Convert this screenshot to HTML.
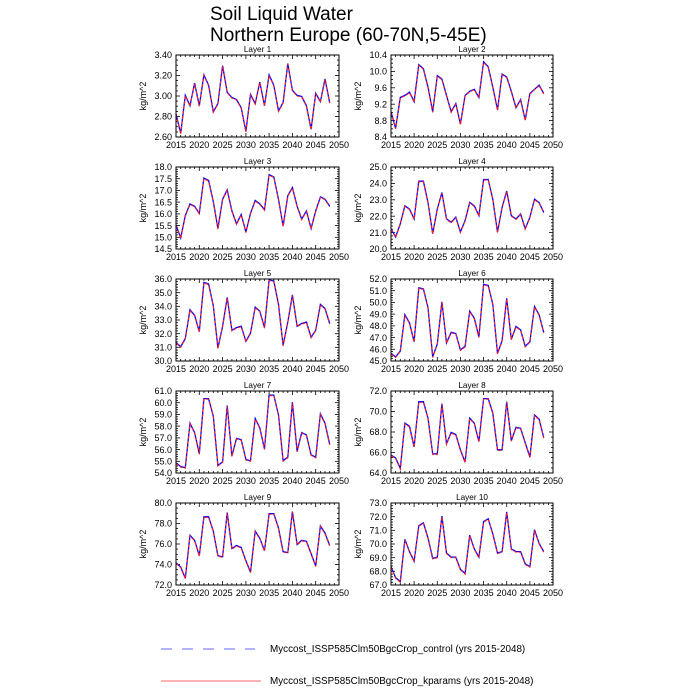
<!DOCTYPE html>
<html><head><meta charset="utf-8"><style>
html,body{margin:0;padding:0;background:#fff;width:700px;height:700px;overflow:hidden}
svg text{font-family:"Liberation Sans",sans-serif;fill:#000}
</style></head><body>
<svg id="s" width="700" height="700" viewBox="0 0 700 700" xmlns="http://www.w3.org/2000/svg">
<text x="210" y="20" font-size="19">Soil Liquid Water</text>
<text x="210" y="41" font-size="19">Northern Europe (60-70N,5-45E)</text>
<line x1="161" y1="649" x2="255" y2="649" stroke="#6666ff" stroke-width="1" stroke-dasharray="11,10"/>
<text x="270" y="652" font-size="9.9">Myccost_ISSP585Clm50BgcCrop_control (yrs 2015-2048)</text>
<line x1="161" y1="681" x2="261" y2="681" stroke="#ff6666" stroke-width="1"/>
<text x="270" y="684" font-size="9.9">Myccost_ISSP585Clm50BgcCrop_kparams (yrs 2015-2048)</text>
</svg>
<script>
const P=[
{n:1,lo:2.6,hi:3.4,st:0.2,mn:0.05,d:2,v:[2.82,2.63,3.0,2.9,3.12,2.9,3.2,3.1,2.84,2.92,3.29,3.03,2.98,2.96,2.88,2.65,3.01,2.92,3.13,2.9,3.2,3.1,2.85,2.93,3.31,3.05,3.0,2.99,2.9,2.67,3.02,2.94,3.16,2.93]},
{n:2,lo:8.4,hi:10.4,st:0.4,mn:0.1,d:1,v:[9.0,8.6,9.35,9.4,9.48,9.25,10.15,10.05,9.6,9.0,9.88,9.8,9.4,9.0,9.2,8.7,9.4,9.5,9.55,9.35,10.22,10.1,9.6,9.05,9.92,9.85,9.5,9.1,9.3,8.8,9.45,9.55,9.65,9.45]},
{n:3,lo:14.5,hi:18,st:0.5,mn:0.1,d:1,v:[15.5,14.95,15.9,16.4,16.3,16.0,17.5,17.4,16.5,15.35,16.6,17.0,16.1,15.55,15.95,15.2,16.0,16.55,16.4,16.15,17.65,17.55,16.6,15.45,16.75,17.1,16.3,15.75,16.1,15.35,16.1,16.7,16.6,16.3]},
{n:4,lo:20,hi:25,st:1,mn:0.2,d:1,v:[21.2,20.7,21.5,22.6,22.4,21.8,24.1,24.1,22.8,20.9,22.4,23.4,21.8,21.6,21.9,21.0,21.7,22.8,22.6,22.0,24.2,24.2,23.0,21.0,22.5,23.5,22.0,21.8,22.1,21.2,21.9,23.0,22.8,22.2]},
{n:5,lo:30,hi:36,st:1,mn:0.2,d:1,v:[31.3,31.0,31.6,33.7,33.3,32.1,35.7,35.6,34.0,30.9,32.5,34.6,32.2,32.4,32.5,31.4,32.0,33.9,33.6,32.4,35.9,35.8,34.1,31.1,32.8,34.8,32.5,32.7,32.8,31.7,32.2,34.1,33.8,32.7]},
{n:6,lo:45,hi:52,st:1,mn:0.2,d:1,v:[45.6,45.3,45.8,48.9,48.2,46.6,51.2,51.1,49.5,45.3,46.4,50.0,46.5,47.4,47.3,45.9,46.2,49.2,48.6,47.0,51.5,51.4,49.8,45.6,46.7,50.3,46.8,47.9,47.6,46.2,46.6,49.6,48.9,47.4]},
{n:7,lo:54,hi:61,st:1,mn:0.2,d:1,v:[54.8,54.5,54.4,58.2,57.4,55.6,60.3,60.3,58.8,54.6,54.9,59.7,55.4,56.9,56.8,55.1,55.0,58.6,57.8,56.0,60.6,60.6,58.9,55.0,55.3,60.0,55.8,57.4,57.2,55.5,55.3,59.0,58.2,56.4]},
{n:8,lo:64,hi:72,st:2,mn:0.5,d:1,v:[65.7,65.4,64.4,68.8,68.5,66.5,70.9,70.9,69.3,65.8,65.8,70.7,66.8,67.9,67.7,66.2,65.0,69.3,68.8,67.0,71.2,71.2,69.8,66.2,66.2,70.9,67.1,68.4,68.3,66.9,65.5,69.6,69.2,67.4]},
{n:9,lo:72,hi:80,st:2,mn:0.5,d:1,v:[74.1,73.7,72.6,76.8,76.3,74.8,78.6,78.6,77.2,74.8,74.7,79.0,75.5,75.8,75.6,74.3,73.2,77.2,76.5,75.3,78.9,78.9,77.5,75.2,75.1,79.1,75.9,76.3,76.2,75.0,73.8,77.7,77.0,75.8]},
{n:10,lo:67,hi:73,st:1,mn:0.2,d:1,v:[68.3,67.5,67.2,70.3,69.4,68.7,71.3,71.5,70.4,68.9,69.0,72.0,69.3,69.0,69.0,68.1,67.8,70.6,69.6,69.0,71.6,71.8,70.7,69.3,69.4,72.3,69.6,69.4,69.4,68.5,68.3,71.0,70.0,69.4]}];
let h='';
P.forEach((p,i)=>{
 const c=i%2,r=Math.floor(i/2);
 const x0=c?391:176,x1=c?553:339,y0=55+112*r,y1=y0+82;
 const X=t=>x0+(t-2015)/35*(x1-x0),Y=v=>y1-(v-p.lo)/(p.hi-p.lo)*(y1-y0);
 h+=`<text x="${(x0+x1)/2}" y="${y0-3}" font-size="8.2" text-anchor="middle">Layer ${p.n}</text>`;
 h+=`<text transform="translate(${x0-30},${(y0+y1)/2}) rotate(-90)" font-size="9" text-anchor="middle">kg/m^2</text>`;
 for(let t=2015;t<=2050;t++){const x=X(t).toFixed(1),L=(t%5==0)?4:2;
  h+=`<line x1="${x}" y1="${y1}" x2="${x}" y2="${y1-L}" stroke="#000" stroke-width="0.8"/><line x1="${x}" y1="${y0}" x2="${x}" y2="${y0+L}" stroke="#000" stroke-width="0.8"/>`;
  if(t%5==0)h+=`<text x="${x}" y="${y1+11}" font-size="9" text-anchor="middle">${t}</text>`;}
 const nm=Math.round((p.hi-p.lo)/p.mn);
 for(let k=0;k<=nm;k++){const v=p.lo+k*p.mn,y=Y(v).toFixed(1);const maj=Math.abs(((v-p.lo)/p.st)-Math.round((v-p.lo)/p.st))<1e-6;const L=maj?4:2;
  h+=`<line x1="${x0}" y1="${y}" x2="${x0+L}" y2="${y}" stroke="#000" stroke-width="0.8"/><line x1="${x1}" y1="${y}" x2="${x1-L}" y2="${y}" stroke="#000" stroke-width="0.8"/>`;
  if(maj)h+=`<text x="${x0-4}" y="${(+y+3.2).toFixed(1)}" font-size="9" text-anchor="end">${v.toFixed(p.d)}</text>`;}
 const pts=p.v.map((v,j)=>X(2015+j).toFixed(1)+','+Y(v).toFixed(1)).join(' ');
 const pb=p.v.map((v,j)=>X(2015+j).toFixed(1)+','+(Y(v)-0.6).toFixed(1)).join(' ');
 h+=`<polyline points="${pb}" fill="none" stroke="#0000ff" stroke-width="1.3"/>`;
 h+=`<polyline points="${pts}" fill="none" stroke="#ff2020" stroke-width="1.1" stroke-dasharray="3,2"/>`;
 h+=`<rect x="${x0}" y="${y0}" width="${x1-x0}" height="${y1-y0}" fill="none" stroke="#000" stroke-width="1"/>`;
});
document.getElementById('s').insertAdjacentHTML('beforeend',h);
</script>
</body></html>
